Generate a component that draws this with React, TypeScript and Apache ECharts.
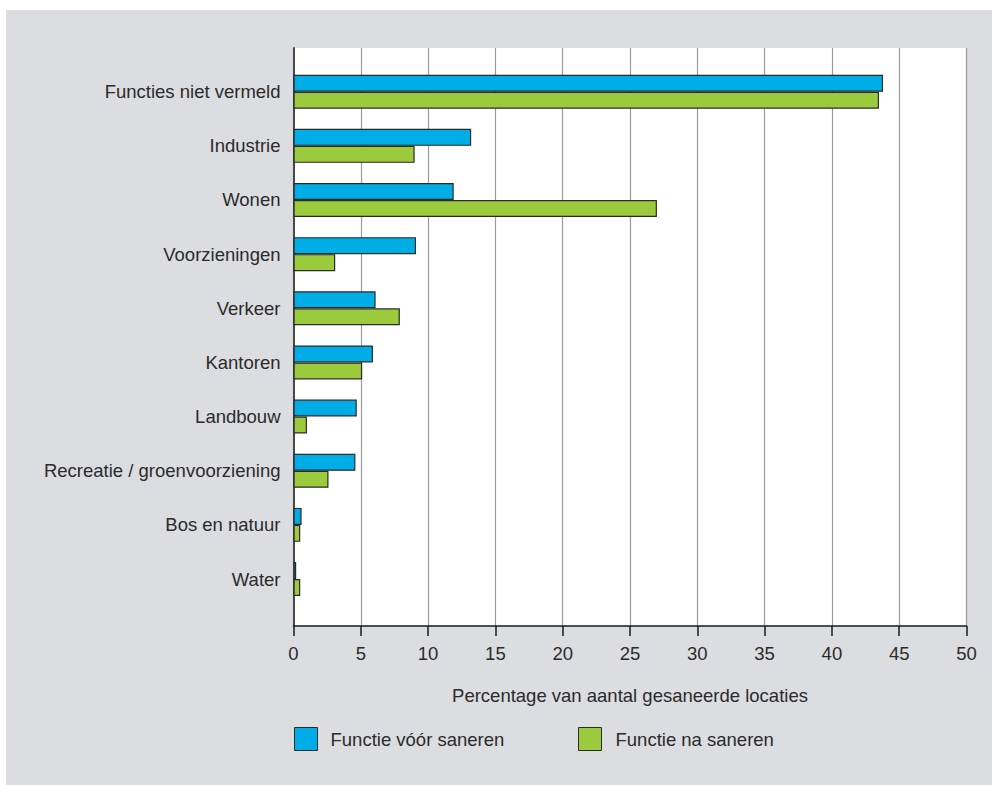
import React, { useEffect, useRef } from "react";
import * as echarts from "echarts";

const categories = [
  "Functies niet vermeld",
  "Industrie",
  "Wonen",
  "Voorzieningen",
  "Verkeer",
  "Kantoren",
  "Landbouw",
  "Recreatie / groenvoorziening",
  "Bos en natuur",
  "Water",
];
const voorValues = [43.8, 13.2, 11.9, 9.1, 6.1, 5.9, 4.7, 4.6, 0.6, 0.2];
const naValues = [43.5, 9.0, 27.0, 3.1, 7.9, 5.1, 1.0, 2.6, 0.5, 0.5];
const seriesNames = ["Functie vóór saneren", "Functie na saneren"];
const axisTitle = "Percentage van aantal gesaneerde locaties";

const FONT = "Liberation Sans, Arial, sans-serif";
const FS = 18.5;
const TEXT = "#2b2b2b";

export default function App() {
  const ref = useRef<HTMLDivElement>(null);
  useEffect(() => {
    if (!ref.current) return;
    const chart = echarts.init(ref.current, null, { renderer: "svg" });
    const W = 992;
    const H = 785;
    const left = 293.5;
    const right = W - 966.5;
    chart.setOption({
      animation: false,
      backgroundColor: "#ffffff",
      textStyle: { fontFamily: FONT },
      graphic: [
        {
          type: "rect",
          z: -10,
          silent: true,
          shape: { x: 6, y: 10, width: W - 6, height: H - 10 },
          style: { fill: "#dcdde0" },
        },
      ],
      grid: [
        { left, right, top: 48, bottom: H - 626, show: true, backgroundColor: "#ffffff", borderWidth: 0 },
        { left, right, top: 64.6, bottom: H - 606.1, show: false },
      ],
      xAxis: [
        {
          gridIndex: 0,
          type: "value",
          min: 0,
          max: 50,
          interval: 5,
          axisLine: { show: true, lineStyle: { color: "#1a1a1a", width: 1.5 } },
          axisTick: { show: true, length: 10, lineStyle: { color: "#1a1a1a", width: 1.5 } },
          axisLabel: { color: TEXT, fontSize: FS, fontFamily: FONT, margin: 18 },
          splitLine: { show: true, lineStyle: { color: "#9a9a9a", width: 1.2 } },
          name: axisTitle,
          nameLocation: "middle",
          nameGap: 60,
          nameTextStyle: { color: TEXT, fontSize: FS, fontFamily: FONT },
        },
        {
          gridIndex: 1,
          type: "value",
          min: 0,
          max: 50,
          show: false,
        },
      ],
      yAxis: [
        {
          gridIndex: 0,
          type: "value",
          axisLine: { show: true, lineStyle: { color: "#4a4a4a", width: 2 } },
          axisTick: { show: false },
          axisLabel: { show: false },
          splitLine: { show: false },
        },
        {
          gridIndex: 1,
          type: "category",
          inverse: true,
          data: categories,
          axisLine: { show: false },
          axisTick: { show: false },
          axisLabel: { color: TEXT, fontSize: FS, fontFamily: FONT, margin: 13 },
        },
      ],
      legend: [
        {
          data: [seriesNames[0]],
          left: 294,
          top: 727,
          padding: 0,
          itemWidth: 23,
          itemHeight: 23,
          icon: "rect",
          textStyle: { color: TEXT, fontSize: FS, fontFamily: FONT, padding: [0, 0, 0, 8] },
          itemStyle: { borderColor: "#2a2a2a", borderWidth: 1 },
        },
        {
          data: [seriesNames[1]],
          left: 578,
          top: 727,
          padding: 0,
          itemWidth: 23,
          itemHeight: 23,
          icon: "rect",
          textStyle: { color: TEXT, fontSize: FS, fontFamily: FONT, padding: [4, 0, 0, 9] },
          itemStyle: { borderColor: "#2a2a2a", borderWidth: 1 },
        },
      ],
      series: [
        {
          name: seriesNames[0],
          type: "bar",
          xAxisIndex: 1,
          yAxisIndex: 1,
          data: voorValues,
          barWidth: 17,
          barGap: "0%",
          itemStyle: { color: "#00ade6", borderColor: "#2a2a2a", borderWidth: 1.2 },
        },
        {
          name: seriesNames[1],
          type: "bar",
          xAxisIndex: 1,
          yAxisIndex: 1,
          data: naValues,
          barWidth: 17,
          barGap: "0%",
          itemStyle: { color: "#9bcb3c", borderColor: "#2a2a2a", borderWidth: 1.2 },
        },
      ],
    });
    return () => chart.dispose();
  }, []);
  return (
    <div
      ref={ref}
      style={{ position: "fixed", left: 0, top: 0, width: 992, height: 785 }}
    />
  );
}
